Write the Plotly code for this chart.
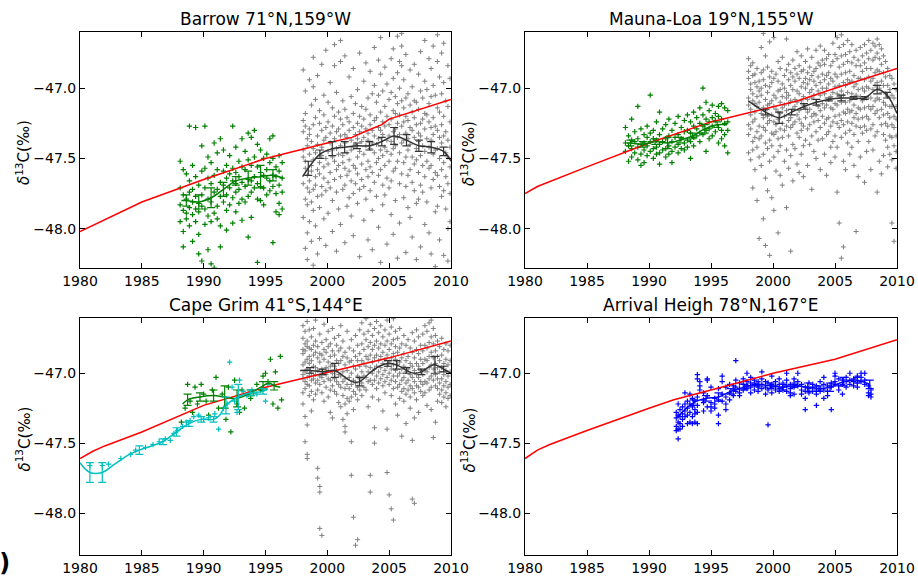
import plotly.graph_objects as go

W, H = 918, 579

titles = ["Barrow 71°N,159°W", "Mauna-Loa 19°N,155°W", "Cape Grim 41°S,144°E", "Arrival Heigh 78°N,167°E"]
x_ticks = [1980, 1985, 1990, 1995, 2000, 2005, 2010]
y_ticks = [-48.0, -47.5, -47.0]
y_tick_text = ["−48.0", "−47.5", "−47.0"]

# ---------------- red reference curves ----------------
red_barrow_x = [1980, 1985, 1990, 1995, 2000, 2002, 2003, 2004.4, 2005, 2010]
red_barrow_y = [-48.02, -47.81, -47.65, -47.50, -47.39, -47.35, -47.31, -47.26, -47.22, -47.08]
red_mlo_x = [1980, 1981, 1985, 1990, 1995, 2000, 2002, 2005, 2010]
red_mlo_y = [-47.75, -47.70, -47.56, -47.39, -47.24, -47.13, -47.09, -47.00, -46.86]
red_cgo_x = [1980, 1981, 1982, 1985, 1990, 1995, 2000, 2005, 2010]
red_cgo_y = [-47.61, -47.56, -47.52, -47.42, -47.23, -47.10, -46.995, -46.89, -46.77]
red_arh_x = [1980, 1981, 1982, 1985, 1990, 1992, 1995, 2000, 2005, 2010]
red_arh_y = [-47.61, -47.55, -47.51, -47.41, -47.25, -47.19, -47.12, -47.00, -46.90, -46.76]

# ---------------- gray (recent) data, by sampling time ----------------
barrow_gray_t = [1998.05, 1998.22, 1998.38, 1998.55, 1998.71, 1998.86, 1999.04, 1999.21, 1999.37, 1999.55,
                 1999.72, 1999.88, 2000.06, 2000.23, 2000.41, 2000.58, 2000.74, 2000.91, 2001.07, 2001.25,
                 2001.42, 2001.59, 2001.76, 2001.93, 2002.1, 2002.27, 2002.44, 2002.61, 2002.78, 2002.95,
                 2003.12, 2003.29, 2003.46, 2003.63, 2003.8, 2003.97, 2004.14, 2004.31, 2004.48, 2004.65,
                 2004.82, 2004.99, 2005.16, 2005.33, 2005.5, 2005.67, 2005.84, 2006.01, 2006.18, 2006.35,
                 2006.52, 2006.69, 2006.86, 2007.03, 2007.2, 2007.37, 2007.54, 2007.71, 2007.88, 2008.05,
                 2008.22, 2008.39, 2008.56, 2008.73, 2008.9, 2009.07, 2009.24, 2009.41, 2009.58, 2009.75,
                 2009.92]
barrow_gray_y = [
    [-46.87, -47.23, -47.31, -47.44, -47.49, -47.68, -47.92],
    [-47.02, -47.18, -47.27, -47.52, -47.57, -47.79, -48.14],
    [-47.36, -47.41, -47.62, -47.71, -47.83, -48.03, -48.22],
    [-46.94, -47.29, -47.33, -47.47, -47.66, -47.74, -47.95],
    [-47.12, -47.38, -47.55, -47.59, -47.81, -48.09],
    [-46.78, -46.99, -47.26, -47.43, -47.51, -47.72, -47.87, -48.26],
    [-47.08, -47.21, -47.46, -47.63, -47.69, -47.98],
    [-46.91, -47.34, -47.40, -47.58, -47.77, -48.18],
    [-47.16, -47.25, -47.53, -47.61, -47.85, -48.07],
    [-46.83, -47.30, -47.42, -47.48, -47.70, -47.76],
    [-47.05, -47.19, -47.37, -47.56, -47.64, -47.93],
    [-46.73, -47.28, -47.35, -47.50, -47.73, -48.12],
    [-47.10, -47.24, -47.45, -47.54, -47.67, -47.89],
    [-46.96, -47.32, -47.39, -47.60, -47.71],
    [-47.14, -47.27, -47.44, -47.49, -47.80, -48.02],
    [-46.69, -46.84, -47.20, -47.36, -47.52, -47.65],
    [-47.03, -47.31, -47.43, -47.58, -47.74, -48.16],
    [-47.17, -47.29, -47.47, -47.55, -47.86],
    [-46.66, -46.81, -47.22, -47.34, -47.41, -47.63, -47.97],
    [-47.09, -47.26, -47.48, -47.53, -47.72],
    [-46.77, -47.15, -47.33, -47.39, -47.57, -47.69, -48.10],
    [-47.21, -47.35, -47.46, -47.62, -47.84],
    [-46.92, -47.24, -47.30, -47.51, -47.59, -47.78],
    [-47.06, -47.37, -47.44, -47.66, -47.91],
    [-46.86, -47.18, -47.28, -47.42, -47.55, -47.75, -48.05],
    [-47.11, -47.33, -47.40, -47.57, -47.68],
    [-47.01, -47.25, -47.36, -47.49, -47.61, -47.82],
    [-46.75, -47.20, -47.31, -47.45, -47.72, -48.20],
    [-47.13, -47.27, -47.38, -47.54, -47.65],
    [-46.95, -47.22, -47.35, -47.47, -47.70, -47.94],
    [-46.82, -47.15, -47.29, -47.41, -47.58, -47.79],
    [-47.07, -47.32, -47.37, -47.52, -47.63, -48.08],
    [-46.88, -47.19, -47.26, -47.43, -47.56, -47.73],
    [-47.04, -47.30, -47.39, -47.60, -47.87, -48.15],
    [-46.71, -46.98, -47.23, -47.34, -47.46, -47.67],
    [-47.10, -47.21, -47.40, -47.53, -47.77],
    [-46.80, -47.05, -47.28, -47.36, -47.50, -47.62, -47.99],
    [-46.64, -46.90, -47.17, -47.30, -47.44, -47.58, -48.24],
    [-47.02, -47.24, -47.33, -47.48, -47.69, -47.83],
    [-46.85, -47.13, -47.27, -47.42, -47.55, -47.76],
    [-46.97, -47.20, -47.37, -47.45, -47.64, -48.11],
    [-47.08, -47.26, -47.34, -47.52, -47.71],
    [-46.79, -47.03, -47.22, -47.38, -47.47, -47.66, -47.90],
    [-46.72, -46.93, -47.16, -47.31, -47.43, -47.59, -48.04],
    [-47.06, -47.18, -47.29, -47.41, -47.57, -47.80],
    [-46.63, -46.89, -47.11, -47.25, -47.35, -47.52, -48.21],
    [-46.81, -47.00, -47.19, -47.33, -47.46, -47.68, -47.96],
    [-46.61, -46.70, -46.84, -47.09, -47.27, -47.39, -47.61],
    [-46.94, -47.14, -47.24, -47.37, -47.53, -47.78],
    [-46.76, -47.07, -47.20, -47.32, -47.49, -47.70, -48.17],
    [-47.04, -47.23, -47.36, -47.44, -47.62, -47.85],
    [-46.87, -47.12, -47.28, -47.40, -47.58, -47.92],
    [-46.99, -47.17, -47.30, -47.49, -47.67, -48.06],
    [-46.83, -47.09, -47.21, -47.35, -47.54, -47.73],
    [-47.10, -47.26, -47.43, -47.51, -47.82, -48.22],
    [-46.90, -47.15, -47.32, -47.38, -47.60, -47.79],
    [-46.74, -47.02, -47.25, -47.34, -47.48, -47.69, -48.13],
    [-47.07, -47.22, -47.41, -47.55, -47.74],
    [-46.66, -46.95, -47.18, -47.29, -47.45, -47.63, -47.97],
    [-47.01, -47.19, -47.36, -47.52, -47.81],
    [-46.79, -47.11, -47.24, -47.42, -47.57, -48.03],
    [-46.86, -47.06, -47.28, -47.37, -47.55, -47.71, -48.18],
    [-46.70, -46.98, -47.21, -47.33, -47.47, -47.65],
    [-47.05, -47.27, -47.44, -47.60, -47.88, -48.27],
    [-46.62, -46.81, -47.14, -47.30, -47.43, -47.62, -47.84],
    [-46.92, -47.17, -47.35, -47.50, -47.70, -48.08],
    [-46.75, -47.04, -47.26, -47.39, -47.58, -47.77],
    [-46.68, -46.96, -47.20, -47.34, -47.53, -47.73, -48.19],
    [-47.09, -47.31, -47.46, -47.63, -47.86],
    [-46.84, -47.13, -47.37, -47.49, -47.68, -48.00, -48.23],
    [-46.93, -47.24, -47.42, -47.56, -47.75, -47.95],
]

mlo_gray_t = [1998.03, 1998.2, 1998.37, 1998.54, 1998.71, 1998.88, 1999.05, 1999.22, 1999.39, 1999.56,
              1999.73, 1999.9, 2000.07, 2000.24, 2000.41, 2000.58, 2000.75, 2000.92, 2001.09, 2001.26,
              2001.43, 2001.6, 2001.77, 2001.94, 2002.11, 2002.28, 2002.45, 2002.62, 2002.79, 2002.96,
              2003.13, 2003.3, 2003.47, 2003.64, 2003.81, 2003.98, 2004.15, 2004.32, 2004.49, 2004.66,
              2004.83, 2005.0, 2005.17, 2005.34, 2005.51, 2005.68, 2005.85, 2006.02, 2006.19, 2006.36,
              2006.53, 2006.7, 2006.87, 2007.04, 2007.21, 2007.38, 2007.55, 2007.72, 2007.89, 2008.06,
              2008.23, 2008.4, 2008.57, 2008.74, 2008.91, 2009.08, 2009.25, 2009.42, 2009.59, 2009.76,
              2009.93]
mlo_gray_y = [
    [-46.79, -46.88, -46.93, -47.07, -47.12, -47.26, -47.33, -47.46],
    [-46.84, -46.97, -47.01, -47.15, -47.19, -47.29, -47.51],
    [-46.82, -46.91, -47.04, -47.09, -47.24, -47.38, -47.44, -47.71],
    [-46.90, -46.96, -47.11, -47.17, -47.22, -47.35, -47.58],
    [-46.86, -46.99, -47.06, -47.13, -47.31, -47.42, -47.80],
    [-46.95, -47.02, -47.10, -47.27, -47.36, -47.49, -48.07],
    [-46.71, -46.89, -47.00, -47.05, -47.18, -47.34, -47.55],
    [-46.61, -46.87, -46.94, -47.14, -47.21, -47.28, -47.47, -47.93],
    [-46.77, -46.98, -47.08, -47.16, -47.30, -47.39, -47.64, -48.12],
    [-46.85, -47.03, -47.12, -47.20, -47.25, -47.43, -47.73],
    [-46.67, -46.92, -46.99, -47.11, -47.23, -47.37, -47.52, -48.19],
    [-46.88, -46.96, -47.09, -47.19, -47.32, -47.41, -47.78],
    [-46.64, -46.93, -47.05, -47.13, -47.24, -47.33, -47.49, -47.87],
    [-46.90, -47.07, -47.15, -47.26, -47.31, -47.59],
    [-46.81, -46.95, -47.02, -47.17, -47.22, -47.36, -47.45, -48.03],
    [-46.86, -47.01, -47.10, -47.18, -47.29, -47.41, -47.62],
    [-46.78, -46.97, -47.06, -47.14, -47.25, -47.35, -47.69],
    [-46.91, -47.00, -47.12, -47.20, -47.30, -47.52],
    [-46.65, -46.87, -47.03, -47.07, -47.16, -47.27, -47.44, -47.85],
    [-46.83, -46.94, -47.05, -47.11, -47.23, -47.34, -47.57],
    [-46.89, -46.98, -47.09, -47.21, -47.28, -47.48, -48.16],
    [-46.80, -46.92, -47.01, -47.15, -47.26, -47.40, -47.66],
    [-46.86, -46.95, -47.08, -47.13, -47.24, -47.43],
    [-46.74, -46.90, -47.02, -47.10, -47.19, -47.32, -47.54],
    [-46.84, -46.93, -47.04, -47.16, -47.22, -47.35, -47.60],
    [-46.77, -46.88, -46.99, -47.09, -47.25, -47.30, -47.47],
    [-46.87, -46.96, -47.06, -47.12, -47.27, -47.41, -47.63],
    [-46.81, -46.93, -47.00, -47.14, -47.21, -47.37],
    [-46.72, -46.89, -46.97, -47.08, -47.17, -47.29, -47.55],
    [-46.85, -46.94, -47.03, -47.15, -47.26, -47.40],
    [-46.78, -46.91, -47.01, -47.07, -47.20, -47.34, -47.72],
    [-46.88, -46.95, -47.05, -47.18, -47.24, -47.45],
    [-46.73, -46.86, -46.98, -47.10, -47.19, -47.31, -47.50],
    [-46.82, -46.92, -47.02, -47.13, -47.23, -47.37],
    [-46.70, -46.84, -46.96, -47.05, -47.16, -47.28, -47.58],
    [-46.80, -46.90, -47.00, -47.11, -47.20, -47.36],
    [-46.73, -46.83, -46.94, -47.04, -47.14, -47.25, -47.47],
    [-46.79, -46.91, -47.00, -47.12, -47.22, -47.33, -47.62],
    [-46.76, -46.89, -46.97, -47.08, -47.21, -47.31],
    [-46.84, -46.93, -47.06, -47.14, -47.27, -47.42, -47.53],
    [-46.68, -46.81, -46.95, -47.03, -47.15, -47.24, -47.38],
    [-46.76, -46.90, -46.99, -47.11, -47.20, -47.34, -47.49],
    [-46.64, -46.79, -46.92, -47.04, -47.12, -47.25, -47.42, -47.74],
    [-46.71, -46.85, -46.98, -47.06, -47.19, -47.28, -47.96],
    [-46.62, -46.77, -46.90, -47.02, -47.10, -47.23, -47.35, -48.21],
    [-46.69, -46.83, -46.96, -47.05, -47.17, -47.26, -47.52, -48.13],
    [-46.76, -46.89, -46.98, -47.10, -47.18, -47.32, -47.58],
    [-46.66, -46.81, -46.94, -47.03, -47.15, -47.24, -47.39],
    [-46.74, -46.88, -46.96, -47.09, -47.17, -47.30, -47.47],
    [-46.69, -46.82, -46.95, -47.04, -47.16, -47.25, -47.42],
    [-46.78, -46.91, -46.99, -47.12, -47.21, -47.33, -47.55],
    [-46.73, -46.84, -46.97, -47.05, -47.18, -47.27, -48.02],
    [-46.80, -46.93, -47.01, -47.14, -47.22, -47.38, -47.63],
    [-46.71, -46.84, -46.93, -47.06, -47.15, -47.28, -47.49],
    [-46.77, -46.88, -47.00, -47.09, -47.21, -47.32],
    [-46.69, -46.82, -46.94, -47.02, -47.14, -47.27, -47.67],
    [-46.75, -46.86, -46.99, -47.07, -47.20, -47.30, -47.45],
    [-46.66, -46.79, -46.92, -47.00, -47.13, -47.22, -47.38],
    [-46.73, -46.86, -46.95, -47.07, -47.15, -47.29, -47.58],
    [-46.68, -46.80, -46.93, -47.01, -47.13, -47.26, -47.44],
    [-46.70, -46.78, -46.89, -46.98, -47.09, -47.18, -47.34],
    [-46.65, -46.75, -46.87, -46.96, -47.07, -47.16, -47.31, -47.74],
    [-46.69, -46.79, -46.88, -47.00, -47.08, -47.21, -47.52],
    [-46.72, -46.83, -46.95, -47.03, -47.15, -47.26, -47.61],
    [-46.77, -46.89, -46.98, -47.10, -47.19, -47.33, -47.48],
    [-46.81, -46.92, -47.04, -47.12, -47.25, -47.37],
    [-46.86, -46.98, -47.06, -47.18, -47.27, -47.42, -47.56],
    [-46.91, -47.01, -47.13, -47.21, -47.34, -47.47],
    [-46.93, -47.05, -47.13, -47.26, -47.35, -47.51, -47.96],
    [-46.97, -47.07, -47.20, -47.28, -47.41, -48.09],
    [-47.01, -47.13, -47.22, -47.34, -47.45, -47.57],
]

cgo_gray_t = [1998.03, 1998.2, 1998.37, 1998.54, 1998.71, 1998.88, 1999.05, 1999.22, 1999.39, 1999.56,
              1999.73, 1999.9, 2000.07, 2000.24, 2000.41, 2000.58, 2000.75, 2000.92, 2001.09, 2001.26,
              2001.43, 2001.6, 2001.77, 2001.94, 2002.11, 2002.28, 2002.45, 2002.62, 2002.79, 2002.96,
              2003.13, 2003.3, 2003.47, 2003.64, 2003.81, 2003.98, 2004.15, 2004.32, 2004.49, 2004.66,
              2004.83, 2005.0, 2005.17, 2005.34, 2005.51, 2005.68, 2005.85, 2006.02, 2006.19, 2006.36,
              2006.53, 2006.7, 2006.87, 2007.04, 2007.21, 2007.38, 2007.55, 2007.72, 2007.89, 2008.06,
              2008.23, 2008.4, 2008.57, 2008.74, 2008.91, 2009.08, 2009.25, 2009.42, 2009.59, 2009.76,
              2009.93]
cgo_gray_y = [
    [-46.66, -46.75, -46.83, -46.86, -46.94, -47.01, -47.04, -47.14, -47.22],
    [-46.70, -46.79, -46.84, -46.92, -46.99, -47.06, -47.11, -47.31, -47.49],
    [-46.63, -46.77, -46.81, -46.90, -46.97, -47.03, -47.08, -47.37, -47.58, -47.61],
    [-46.69, -46.82, -46.88, -46.93, -47.02, -47.09, -47.16],
    [-46.74, -46.83, -46.91, -47.00, -47.05, -47.13, -47.27],
    [-46.68, -46.80, -46.87, -46.95, -47.04, -47.19],
    [-46.62, -46.77, -46.85, -46.96, -47.01, -47.07, -47.15],
    [-46.81, -46.89, -46.98, -47.05, -47.12, -47.68, -47.75],
    [-46.72, -46.86, -46.92, -47.02, -47.08, -47.81, -47.85, -48.11],
    [-46.78, -46.87, -46.97, -47.03, -47.14, -48.16],
    [-46.65, -46.83, -46.90, -47.00, -47.06, -47.20],
    [-46.76, -46.85, -46.96, -47.01, -47.10],
    [-46.70, -46.81, -46.92, -46.98, -47.04, -47.17],
    [-46.79, -46.88, -46.95, -47.05, -47.12, -47.28],
    [-46.68, -46.84, -46.94, -47.00, -47.09, -47.32],
    [-46.75, -46.87, -46.95, -47.04, -47.13],
    [-46.80, -46.91, -46.98, -47.06, -47.15],
    [-46.73, -46.84, -46.93, -47.01, -47.08, -47.21],
    [-46.66, -46.82, -46.91, -47.02, -47.10, -47.24],
    [-46.77, -46.88, -46.99, -47.06, -47.16, -47.33],
    [-46.85, -46.94, -47.04, -47.11, -47.22, -47.38, -47.42],
    [-46.70, -46.89, -46.98, -47.08, -47.18, -47.29],
    [-46.82, -46.92, -47.03, -47.11, -47.20],
    [-46.76, -46.91, -47.00, -47.08, -47.17, -47.49, -47.73],
    [-46.84, -46.95, -47.05, -47.13, -47.26, -48.03],
    [-46.73, -46.88, -46.97, -47.07, -47.15, -48.23],
    [-46.80, -46.91, -47.02, -47.10, -47.19, -48.19],
    [-46.69, -46.86, -46.95, -47.04, -47.12],
    [-46.64, -46.79, -46.91, -46.99, -47.07, -47.16],
    [-46.72, -46.83, -46.93, -47.02, -47.10],
    [-46.61, -46.76, -46.88, -46.95, -47.03, -47.12],
    [-46.70, -46.81, -46.90, -46.99, -47.06, -47.24],
    [-46.65, -46.78, -46.87, -46.96, -47.05, -47.73, -47.85],
    [-46.73, -46.83, -46.92, -47.00, -47.08, -47.17],
    [-46.68, -46.80, -46.89, -46.97, -47.05, -47.39, -47.50],
    [-46.63, -46.77, -46.87, -46.95, -47.02, -47.11],
    [-46.71, -46.82, -46.91, -46.99, -47.07, -47.19],
    [-46.66, -46.79, -46.88, -46.96, -47.04],
    [-46.74, -46.85, -46.93, -47.01, -47.09, -47.27],
    [-46.69, -46.80, -46.90, -46.98, -47.06, -47.14],
    [-46.62, -46.77, -46.87, -46.95, -47.03, -47.40, -47.71],
    [-46.72, -46.83, -46.92, -47.00, -47.08, -47.87],
    [-46.67, -46.79, -46.89, -46.97, -47.05, -47.16, -47.97],
    [-46.61, -46.76, -46.86, -46.94, -47.02, -47.11, -48.05],
    [-46.70, -46.81, -46.90, -46.98, -47.06, -47.22],
    [-46.75, -46.85, -46.94, -47.02, -47.10, -47.30],
    [-46.68, -46.82, -46.92, -47.00, -47.08, -47.18],
    [-46.79, -46.89, -46.97, -47.05, -47.13, -47.45],
    [-46.73, -46.86, -46.95, -47.03, -47.11, -47.20],
    [-46.80, -46.91, -46.99, -47.07, -47.15, -47.36],
    [-46.76, -46.88, -46.97, -47.05, -47.12],
    [-46.82, -46.93, -47.01, -47.09, -47.17, -47.25],
    [-46.71, -46.85, -46.95, -47.03, -47.11, -47.48, -47.90],
    [-46.77, -46.89, -46.98, -47.06, -47.14, -47.32, -47.93],
    [-46.69, -46.83, -46.93, -47.01, -47.09, -47.19],
    [-46.74, -46.86, -46.95, -47.03, -47.10, -47.28],
    [-46.80, -46.90, -46.98, -47.06, -47.13],
    [-46.72, -46.84, -46.93, -47.01, -47.08, -47.16],
    [-46.66, -46.80, -46.90, -46.98, -47.06, -47.14],
    [-46.70, -46.82, -46.91, -46.99, -47.07, -47.23],
    [-46.64, -46.78, -46.88, -46.96, -47.04, -47.12],
    [-46.62, -46.74, -46.85, -46.94, -47.02, -47.10, -47.26],
    [-46.68, -46.79, -46.89, -46.97, -47.05, -47.46],
    [-46.73, -46.84, -46.93, -47.01, -47.09, -47.35],
    [-46.77, -46.88, -46.96, -47.04, -47.11, -47.20],
    [-46.81, -46.91, -46.99, -47.07, -47.15],
    [-46.75, -46.87, -46.96, -47.04, -47.12, -47.21],
    [-46.83, -46.93, -47.01, -47.09, -47.17],
    [-46.79, -46.90, -46.98, -47.06, -47.14, -47.24],
    [-46.84, -46.94, -47.02, -47.10, -47.18],
    [-46.80, -46.91, -46.99, -47.08, -47.16],
]

# ---------------- green (older flask) data ----------------
barrow_green_t = [1988.1, 1988.35, 1988.6, 1988.85, 1989.1, 1989.35, 1989.6, 1989.85, 1990.1, 1990.35,
                  1990.6, 1990.85, 1991.1, 1991.35, 1991.6, 1991.85, 1992.1, 1992.35, 1992.6, 1992.85,
                  1993.1, 1993.35, 1993.6, 1993.85, 1994.1, 1994.35, 1994.6, 1994.85, 1995.1, 1995.35,
                  1995.6, 1995.85, 1996.1, 1996.35]
barrow_green_y = [
    [-47.52, -47.71, -47.83, -47.95], [-47.58, -47.76, -47.87, -48.02, -48.13],
    [-47.61, -47.79, -47.89, -47.93], [-47.27, -47.66, -47.74, -47.85, -47.98],
    [-47.55, -47.72, -47.81, -47.90, -48.09], [-47.28, -47.63, -47.77, -47.86, -47.95],
    [-47.69, -47.82, -47.88, -48.04, -48.18], [-47.41, -47.59, -47.76, -47.84, -48.23],
    [-47.27, -47.57, -47.71, -47.86, -47.97], [-47.49, -47.64, -47.79, -47.91, -48.15],
    [-47.53, -47.68, -47.81, -47.95, -48.25], [-47.39, -47.62, -47.74, -47.89, -48.28],
    [-47.46, -47.58, -47.72, -47.84, -47.93], [-47.36, -47.67, -47.77, -47.98, -48.13],
    [-47.44, -47.59, -47.69, -47.81], [-47.55, -47.64, -47.76, -47.87, -48.01],
    [-47.48, -47.61, -47.71, -47.83], [-47.27, -47.57, -47.66, -47.78, -47.96],
    [-47.42, -47.60, -47.68, -47.74, -47.88], [-47.52, -47.63, -47.72, -47.82],
    [-47.36, -47.56, -47.67, -47.79, -47.94], [-47.45, -47.58, -47.70, -47.81],
    [-47.32, -47.51, -47.65, -47.77, -48.06], [-47.35, -47.55, -47.66, -47.74, -47.92],
    [-47.30, -47.49, -47.63, -47.71], [-47.40, -47.56, -47.68, -47.79, -48.24],
    [-47.44, -47.60, -47.70, -47.80], [-47.50, -47.62, -47.71, -47.83],
    [-47.47, -47.58, -47.64, -47.76], [-47.36, -47.53, -47.66, -47.73],
    [-47.34, -47.50, -47.62, -47.70, -48.10], [-47.56, -47.63, -47.75, -47.88],
    [-47.48, -47.59, -47.69, -47.82, -47.90], [-47.53, -47.64, -47.74, -47.86],
]

mlo_green_t = barrow_green_t
mlo_green_y = [
    [-47.28, -47.39, -47.45], [-47.34, -47.41, -47.52], [-47.22, -47.37, -47.43, -47.49],
    [-47.31, -47.38, -47.46], [-47.13, -47.36, -47.42, -47.51], [-47.29, -47.40, -47.47, -47.55],
    [-47.33, -47.39, -47.44, -47.53], [-47.27, -47.35, -47.41, -47.48], [-47.05, -47.32, -47.38, -47.45],
    [-47.30, -47.36, -47.43, -47.50], [-47.24, -47.37, -47.42, -47.47], [-47.17, -47.33, -47.40, -47.46, -47.54],
    [-47.29, -47.38, -47.44], [-47.26, -47.36, -47.43, -47.49], [-47.22, -47.34, -47.41, -47.47],
    [-47.30, -47.38, -47.45, -47.53], [-47.25, -47.35, -47.42], [-47.20, -47.33, -47.40, -47.46],
    [-47.28, -47.36, -47.43], [-47.23, -47.31, -47.39, -47.44], [-47.19, -47.30, -47.37, -47.42],
    [-47.24, -47.32, -47.38, -47.50], [-47.17, -47.27, -47.35, -47.41], [-47.21, -47.29, -47.34],
    [-47.14, -47.25, -47.32, -47.38], [-47.00, -47.19, -47.27, -47.33], [-47.10, -47.22, -47.30, -47.45],
    [-47.16, -47.24, -47.29, -47.36], [-47.12, -47.21, -47.27, -47.34], [-47.18, -47.23, -47.31],
    [-47.13, -47.20, -47.28, -47.39], [-47.11, -47.22, -47.30, -47.36], [-47.14, -47.25, -47.33, -47.41],
    [-47.16, -47.24, -47.30, -47.46],
]

cgo_green_x = [1988.2, 1988.5, 1988.7, 1988.9, 1989.1, 1989.3, 1989.5, 1989.8, 1990.0, 1990.2, 1990.4,
               1990.7, 1991.0, 1991.2, 1991.5, 1991.8, 1992.0, 1992.2, 1992.5, 1992.7, 1992.9, 1993.1,
               1993.3, 1993.6, 1993.8, 1994.0, 1994.3, 1994.6, 1994.8, 1995.0, 1995.2, 1995.4, 1995.6,
               1995.8, 1996.0, 1996.2, 1996.3]
cgo_green_y = [-47.35, -47.25, -47.08, -47.20, -47.28, -47.10, -47.22, -47.08, -47.15, -47.20, -47.30,
               -47.12, -47.03, -47.25, -47.15, -47.33, -47.10, -47.42, -47.05, -47.22, -47.28, -47.12,
               -47.25, -47.15, -47.18, -47.14, -47.08, -47.12, -47.02, -47.00, -47.06, -46.90, -47.22,
               -46.99, -47.25, -46.88, -47.19]

cgo_cyan_x = [1980.8, 1981.8, 1982.3, 1983.3, 1984.1, 1984.5, 1985.3, 1985.9, 1986.4, 1986.9, 1987.3,
              1987.6, 1987.9, 1988.3, 1988.6, 1988.9, 1989.2, 1989.6, 1990.0, 1990.4, 1990.9, 1991.2,
              1991.6, 1991.9, 1992.1, 1992.3, 1992.5, 1992.7, 1992.9, 1993.2, 1993.5, 1993.9, 1994.3,
              1994.7, 1995.0, 1995.2]
cgo_cyan_y = [-47.66, -47.66, -47.65, -47.61, -47.58, -47.55, -47.53, -47.51, -47.49, -47.47, -47.48,
              -47.43, -47.41, -47.38, -47.35, -47.34, -47.31, -47.30, -47.33, -47.32, -47.29, -47.40,
              -47.25, -47.22, -46.92, -47.10, -47.20, -47.28, -47.05, -47.13, -47.16, -47.12, -47.15,
              -47.11, -47.20, -47.08]

arh_blue_t = [1992.2, 1992.35, 1992.5, 1992.7, 1992.9, 1993.1, 1993.3, 1993.5, 1993.7, 1993.9, 1994.1,
              1994.4, 1994.7, 1995.0, 1995.3, 1995.6, 1995.9, 1996.2, 1996.5, 1996.8, 1997.0, 1997.3,
              1997.6, 1997.9, 1998.2, 1998.5, 1998.8, 1999.1, 1999.4, 1999.6, 1999.9, 2000.2, 2000.5,
              2000.8, 2001.1, 2001.4, 2001.7, 2002.0, 2002.3, 2002.6, 2002.9, 2003.2, 2003.5, 2003.8,
              2004.1, 2004.4, 2004.7, 2005.0, 2005.3, 2005.6, 2005.9, 2006.2, 2006.5, 2006.8, 2007.1,
              2007.4, 2007.7, 2007.9]
arh_blue_y = [
    [-47.28, -47.32, -47.38, -47.41], [-47.22, -47.30, -47.35, -47.40, -47.47], [-47.26, -47.31, -47.36, -47.40],
    [-47.24, -47.29, -47.33, -47.38], [-47.14, -47.22, -47.27, -47.31], [-47.20, -47.25, -47.30, -47.36],
    [-47.15, -47.22, -47.28, -47.35], [-47.18, -47.24, -47.31, -47.36], [-47.20, -47.26, -47.29, -47.35],
    [-47.01, -47.04, -47.17, -47.23, -47.28, -47.36], [-47.06, -47.09, -47.12], [-47.14, -47.19, -47.21, -47.27],
    [-47.04, -47.05, -47.16, -47.24], [-47.10, -47.21, -47.24, -47.27], [-47.18, -47.22, -47.25],
    [-47.11, -47.19, -47.30, -47.36], [-47.02, -47.06, -47.15, -47.20], [-47.10, -47.17, -47.22, -47.26],
    [-47.08, -47.14, -47.19], [-47.09, -47.12, -47.16], [-46.91, -47.05, -47.10, -47.13],
    [-47.07, -47.11, -47.14, -47.16], [-47.04, -47.08, -47.12], [-47.00, -47.06, -47.09, -47.11],
    [-47.03, -47.07, -47.10, -47.14], [-47.05, -47.08, -47.12], [-47.06, -47.09, -47.10, -47.13],
    [-46.99, -47.04, -47.08, -47.11], [-47.06, -47.10, -47.15], [-47.07, -47.12, -47.37],
    [-47.02, -47.08, -47.10, -47.14], [-47.06, -47.09, -47.12], [-47.04, -47.08, -47.11, -47.13],
    [-47.07, -47.10, -47.12], [-47.00, -47.05, -47.09, -47.13], [-47.08, -47.11, -47.14, -47.16],
    [-47.04, -47.07, -47.10, -47.15], [-47.00, -47.06, -47.09], [-47.08, -47.12, -47.15],
    [-47.10, -47.13, -47.18, -47.26], [-47.07, -47.11, -47.14], [-47.08, -47.10, -47.13],
    [-47.09, -47.12, -47.15, -47.23], [-47.06, -47.11, -47.13], [-47.03, -47.08, -47.12, -47.18],
    [-47.09, -47.13, -47.16], [-47.07, -47.10, -47.26], [-47.00, -47.02, -47.06, -47.08],
    [-47.04, -47.09, -47.12], [-47.05, -47.08, -47.15], [-47.03, -47.06, -47.10],
    [-47.00, -47.05, -47.08], [-47.04, -47.06, -47.09], [-47.02, -47.07, -47.10],
    [-47.00, -47.03, -47.06], [-47.00, -47.05, -47.08], [-47.09, -47.14, -47.16], [-47.12, -47.15, -47.17],
]

# ---------------- smoothed curves and annual error bars ----------------
barrow_black_x = [1998.0, 1998.46, 1999.4, 2000.4, 2001.4, 2002.4, 2003.4, 2004.4, 2005.4, 2006.4, 2007.4, 2008.4, 2009.4, 2010.0]
barrow_black_y = [-47.63, -47.57, -47.47, -47.43, -47.42, -47.41, -47.41, -47.38, -47.34, -47.37, -47.41, -47.42, -47.45, -47.52]
barrow_black_err = [0.0, 0.05, 0.03, 0.05, 0.04, 0.02, 0.03, 0.03, 0.06, 0.04, 0.04, 0.04, 0.03, 0.0]
barrow_gline_x = [1988.2, 1988.6, 1989.6, 1990.6, 1991.6, 1992.6, 1993.6, 1994.6, 1995.6, 1996.4]
barrow_gline_y = [-47.80, -47.80, -47.81, -47.78, -47.72, -47.66, -47.64, -47.63, -47.62, -47.64]
barrow_gline_err = [0.0, 0.04, 0.05, 0.07, 0.05, 0.03, 0.05, 0.08, 0.04, 0.0]

mlo_black_x = [1998.0, 1999.4, 2000.5, 2001.5, 2002.5, 2003.5, 2004.5, 2005.5, 2006.5, 2007.4, 2008.4, 2009.2, 2010.0]
mlo_black_y = [-47.09, -47.17, -47.21, -47.17, -47.13, -47.10, -47.08, -47.07, -47.07, -47.07, -47.01, -47.05, -47.18]
mlo_black_err = [0.0, 0.02, 0.04, 0.02, 0.02, 0.02, 0.01, 0.02, 0.01, 0.01, 0.03, 0.02, 0.0]
mlo_gline_x = [1988.2, 1988.5, 1989.5, 1990.5, 1991.5, 1992.5, 1993.5, 1994.5, 1995.5, 1996.3]
mlo_gline_y = [-47.39, -47.39, -47.40, -47.38, -47.39, -47.37, -47.34, -47.29, -47.26, -47.26]
mlo_gline_err = [0.0, 0.02, 0.02, 0.02, 0.04, 0.02, 0.02, 0.03, 0.02, 0.0]

cgo_black_x = [1997.8, 1998.6, 1999.6, 2000.6, 2001.3, 2002.0, 2002.6, 2003.4, 2004.2, 2004.9, 2005.6, 2006.4, 2007.0, 2007.6, 2008.3, 2008.7, 2009.4, 2010.0]
cgo_black_y = [-46.98, -46.98, -46.99, -46.98, -47.02, -47.06, -47.06, -47.00, -46.95, -46.93, -46.94, -46.98, -47.00, -46.99, -46.95, -46.94, -46.97, -47.00]
cgo_black_err = [0.0, 0.02, 0.02, 0.05, 0.0, 0.0, 0.03, 0.0, 0.0, 0.02, 0.03, 0.02, 0.0, 0.02, 0.0, 0.06, 0.02, 0.0]
cgo_gline_x = [1988.3, 1988.7, 1989.7, 1990.8, 1991.7, 1992.7, 1993.8, 1994.8, 1995.3, 1995.7, 1996.2]
cgo_gline_y = [-47.22, -47.19, -47.17, -47.16, -47.17, -47.18, -47.14, -47.09, -47.07, -47.09, -47.10]
cgo_gline_err = [0.0, 0.04, 0.03, 0.04, 0.08, 0.06, 0.02, 0.03, 0.0, 0.03, 0.0]
cgo_cline_x = [1980.0, 1980.8, 1981.8, 1982.8, 1984.0, 1984.8, 1985.8, 1986.7, 1987.8, 1988.8, 1989.8, 1990.8, 1991.3, 1991.8, 1992.8, 1993.8, 1994.8, 1995.2]
cgo_cline_y = [-47.64, -47.71, -47.71, -47.65, -47.58, -47.55, -47.52, -47.49, -47.42, -47.36, -47.33, -47.33, -47.30, -47.23, -47.17, -47.14, -47.13, -47.11]
cgo_cline_err = [0.0, 0.07, 0.07, 0.0, 0.0, 0.03, 0.0, 0.02, 0.03, 0.02, 0.02, 0.02, 0.0, 0.06, 0.09, 0.02, 0.02, 0.0]

arh_bline_x = [1992.2, 1993.6, 1994.6, 1995.6, 1996.6, 1997.7, 1998.6, 1999.8, 2000.8, 2001.7, 2002.8, 2003.7, 2004.6, 2005.7, 2006.8, 2007.8]
arh_bline_y = [-47.32, -47.21, -47.18, -47.17, -47.13, -47.10, -47.08, -47.09, -47.10, -47.09, -47.10, -47.11, -47.10, -47.06, -47.05, -47.08]
arh_bline_err = [0.0, 0.02, 0.02, 0.03, 0.02, 0.02, 0.01, 0.02, 0.02, 0.01, 0.03, 0.02, 0.03, 0.03, 0.02, 0.03]

# ---------------- figure ----------------
GRAY = "#808080"
GREEN = "#008000"
CYAN = "#00BFBF"
BLUE = "#0000FF"
RED = "#FF0000"
DARK = "#333333"
FONT = "DejaVu Sans"

fig = go.Figure()


def flat(ts, cols):
    xs, ys = [], []
    for t, col in zip(ts, cols):
        for v in col:
            xs.append(t)
            ys.append(v)
    return xs, ys


def pts(ax, x, y, color, size=3.6, lw=1.0):
    fig.add_trace(go.Scatter(x=x, y=y, mode="markers", xaxis="x" + ax, yaxis="y" + ax,
                             marker=dict(symbol="cross-thin", size=size, color=color,
                                         line=dict(color=color, width=lw)),
                             showlegend=False, hoverinfo="skip"))


def curve(ax, x, y, color, width=1.5, shape="linear"):
    fig.add_trace(go.Scatter(x=x, y=y, mode="lines", xaxis="x" + ax, yaxis="y" + ax,
                             line=dict(color=color, width=width, shape=shape),
                             showlegend=False, hoverinfo="skip"))


def bars(ax, x, y, err, color):
    bx = [a for a, e in zip(x, err) if e > 0]
    by = [b for b, e in zip(y, err) if e > 0]
    be = [e for e in err if e > 0]
    fig.add_trace(go.Scatter(x=bx, y=by, mode="markers", xaxis="x" + ax, yaxis="y" + ax,
                             marker=dict(size=1, color=color),
                             error_y=dict(type="data", array=be, visible=True, color=color,
                                          thickness=1.2, width=4),
                             showlegend=False, hoverinfo="skip"))


# Panel 1 Barrow
gx, gy = flat(barrow_gray_t, barrow_gray_y)
pts("", gx, gy, GRAY)
gx, gy = flat(barrow_green_t, barrow_green_y)
pts("", gx, gy, GREEN, size=3.8, lw=1.2)
curve("", red_barrow_x, red_barrow_y, RED)
curve("", barrow_black_x, barrow_black_y, DARK, shape="spline")
bars("", barrow_black_x, barrow_black_y, barrow_black_err, DARK)
curve("", barrow_gline_x, barrow_gline_y, GREEN, shape="spline")
bars("", barrow_gline_x, barrow_gline_y, barrow_gline_err, GREEN)

# Panel 2 Mauna Loa
gx, gy = flat(mlo_gray_t, mlo_gray_y)
pts("2", gx, gy, GRAY)
gx, gy = flat(mlo_green_t, mlo_green_y)
pts("2", gx, gy, GREEN, size=3.8, lw=1.2)
curve("2", red_mlo_x, red_mlo_y, RED)
curve("2", mlo_black_x, mlo_black_y, DARK, shape="spline")
bars("2", mlo_black_x, mlo_black_y, mlo_black_err, DARK)
curve("2", mlo_gline_x, mlo_gline_y, GREEN, shape="spline")
bars("2", mlo_gline_x, mlo_gline_y, mlo_gline_err, GREEN)

# Panel 3 Cape Grim
gx, gy = flat(cgo_gray_t, cgo_gray_y)
pts("3", gx, gy, GRAY)
pts("3", cgo_green_x, cgo_green_y, GREEN, size=3.8, lw=1.2)
pts("3", cgo_cyan_x, cgo_cyan_y, CYAN, size=3.8, lw=1.2)
curve("3", red_cgo_x, red_cgo_y, RED)
curve("3", cgo_black_x, cgo_black_y, DARK, shape="spline")
bars("3", cgo_black_x, cgo_black_y, cgo_black_err, DARK)
curve("3", cgo_gline_x, cgo_gline_y, GREEN, shape="spline")
bars("3", cgo_gline_x, cgo_gline_y, cgo_gline_err, GREEN)
curve("3", cgo_cline_x, cgo_cline_y, CYAN, shape="spline")
bars("3", cgo_cline_x, cgo_cline_y, cgo_cline_err, CYAN)

# Panel 4 Arrival Heights
gx, gy = flat(arh_blue_t, arh_blue_y)
pts("4", gx, gy, BLUE, size=3.8, lw=1.2)
curve("4", red_arh_x, red_arh_y, RED)
curve("4", arh_bline_x, arh_bline_y, BLUE, shape="spline")
bars("4", arh_bline_x, arh_bline_y, arh_bline_err, BLUE)

# axes layout (pixel boxes)
boxes = [((80, 451), (32, 268), [-48.28, -46.60]),
         ((525, 897), (32, 268), [-48.28, -46.60]),
         ((80, 451), (318, 555), [-48.30, -46.605]),
         ((525, 897), (318, 555), [-48.30, -46.605])]

axis_common = dict(showline=True, linecolor="black", linewidth=1, mirror="ticks",
                   ticks="inside", ticklen=5, tickwidth=1, tickcolor="black",
                   showgrid=False, zeroline=False,
                   tickfont=dict(family=FONT, size=14, color="black"))

layout = dict(width=W, height=H, autosize=False,
              margin=dict(l=0, r=0, t=0, b=0, autoexpand=False),
              paper_bgcolor="white", plot_bgcolor="white",
              font=dict(family=FONT, color="black"), showlegend=False)

annotations = []
for i, ((x0, x1), (y0, y1), yr) in enumerate(boxes):
    sfx = "" if i == 0 else str(i + 1)
    layout["xaxis" + sfx] = dict(domain=[x0 / W, x1 / W], range=[1980, 2010],
                                 tickvals=x_ticks, anchor="y" + sfx, **axis_common)
    layout["yaxis" + sfx] = dict(domain=[1 - y1 / H, 1 - y0 / H], range=yr,
                                 tickvals=y_ticks, ticktext=y_tick_text,
                                 anchor="x" + sfx, **axis_common)
    cx = (x0 + x1) / 2
    annotations.append(dict(text=titles[i], xref="paper", yref="paper",
                            x=cx / W, y=1 - (y0 - 13) / H, xanchor="center", yanchor="middle",
                            showarrow=False, font=dict(family=FONT, size=17, color="black")))
    annotations.append(dict(text="<i>δ</i><sup>13</sup>C(‰)", xref="paper", yref="paper",
                            x=(x0 - 57) / W, y=1 - ((y0 + y1) / 2 + 3) / H,
                            xanchor="center", yanchor="middle", textangle=-90,
                            showarrow=False, font=dict(family=FONT, size=15, color="black")))

annotations.append(dict(text="<b>b)</b>", xref="paper", yref="paper", x=12 / W, y=1 - 563 / H,
                        xanchor="right", yanchor="middle", showarrow=False,
                        font=dict(family=FONT, size=24, color="black")))
layout["annotations"] = annotations

fig.update_layout(**layout)
fig.write_html("out.html", config={"displayModeBar": False},
               post_script="document.body.style.margin='0px';document.body.style.overflow='hidden';")
